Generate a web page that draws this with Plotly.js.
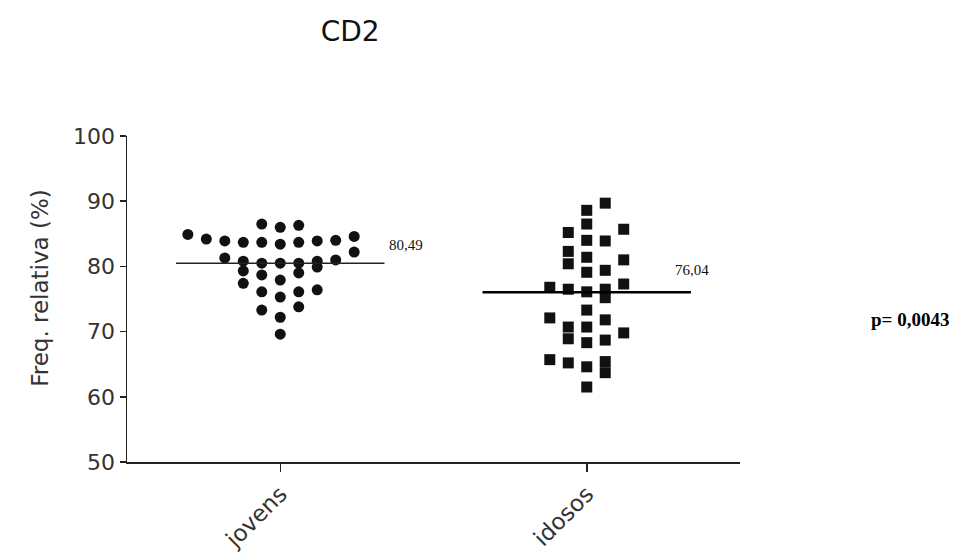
<!DOCTYPE html>
<html>
<head>
<meta charset="utf-8">
<script src="https://cdn.plot.ly/plotly-3.0.1.min.js"></script>
<style>
  html, body { margin: 0; padding: 0; background: #ffffff; }
  #chart { width: 964px; height: 557px; }
</style>
</head>
<body>
<div id="chart"></div>
<script>
// CD2 relative frequency (%) per age group
const groups = ['jovens', 'idosos'];

const jovensValues = [
  84.9, 84.2, 83.9, 83.7, 83.7, 86.5, 86.0, 86.3, 83.4, 83.7,
  83.9, 84.0, 84.6, 82.2, 81.3, 80.8, 80.5, 80.5, 80.5, 80.8,
  81.0, 79.3, 78.7, 79.0, 79.9, 77.4, 77.9, 76.1, 75.3, 76.1,
  76.4, 73.3, 72.2, 73.8, 69.6
];
const idososValues = [
  89.7, 88.6, 86.5, 85.2, 85.7, 84.0, 83.9, 82.3, 80.4, 81.4,
  81.0, 79.1, 79.4, 76.8, 76.5, 76.1, 76.5, 77.3, 75.2, 73.3,
  72.1, 70.7, 70.7, 71.8, 68.9, 68.3, 68.7, 69.8, 65.7, 65.2,
  64.6, 65.4, 63.7, 61.5
];

// Group means shown as horizontal bars
const means = [80.49, 76.04];
const pValue = '0,0043';

// Column slot of each dot in the scatter arrangement (layout only)
const jovensSlot = [
  -5, -4, -3, -2, -1, -1, 0, 1, 0, 1,
   2, 3, 4, 4, -3, -2, -1, 0, 1, 2,
   3, -2, -1, 1, 2, -2, 0, -1, 0, 1,
   2, -1, 0, 1, 0
];
const idososSlot = [
   1, 0, 0, -1, 2, 0, 1, -1, -1, 0,
   2, 0, 1, -2, -1, 0, 1, 2, 1, 0,
  -2, -1, 0, 1, -1, 0, 1, 2, -2, -1,
   0, 1, 1, 0
];
const slotWidth = 0.0603;
const meanHalfWidth = 0.34;

const fmt = v => v.toFixed(2).replace('.', ',');

const traces = [
  {
    type: 'scatter', mode: 'markers', name: groups[0],
    x: jovensSlot.map(s => 0 + s * slotWidth),
    y: jovensValues,
    marker: { symbol: 'circle', size: 11, color: '#111111' },
    hoverinfo: 'y'
  },
  {
    type: 'scatter', mode: 'markers', name: groups[1],
    x: idososSlot.map(s => 1 + s * slotWidth),
    y: idososValues,
    marker: { symbol: 'square', size: 11, color: '#111111' },
    hoverinfo: 'y'
  },
  {
    type: 'scatter', mode: 'lines', name: 'média ' + groups[0],
    x: [0 - meanHalfWidth, 0 + meanHalfWidth],
    y: [means[0], means[0]],
    line: { color: '#1f1f3a', width: 1.6 },
    hoverinfo: 'y'
  },
  {
    type: 'scatter', mode: 'lines', name: 'média ' + groups[1],
    x: [1 - meanHalfWidth, 1 + meanHalfWidth],
    y: [means[1], means[1]],
    line: { color: '#000000', width: 2.6 },
    hoverinfo: 'y'
  }
];

const sans = 'DejaVu Sans, Arial, sans-serif';
const serif = 'Liberation Serif, Times New Roman, serif';

const layout = {
  width: 964,
  height: 557,
  margin: { l: 127, r: 224, t: 135.5, b: 94.5 },
  paper_bgcolor: '#ffffff',
  plot_bgcolor: '#ffffff',
  showlegend: false,
  title: {
    text: 'CD2',
    font: { family: sans, size: 28, color: '#111111' },
    x: 351 / 964, xanchor: 'center', xref: 'paper',
    y: 1 - 31 / 557, yanchor: 'middle', yref: 'container'
  },
  xaxis: {
    range: [-0.5, 1.5],
    tickvals: [0, 1],
    ticktext: groups,
    tickangle: -45,
    ticks: 'outside', ticklen: 8, tickwidth: 1.5, tickcolor: '#222222',
    showline: true, linecolor: '#222222', linewidth: 1.5,
    showgrid: false, zeroline: false,
    tickfont: { family: sans, size: 23, color: '#333333' }
  },
  yaxis: {
    range: [50, 100],
    tickvals: [50, 60, 70, 80, 90, 100],
    ticks: 'outside', ticklen: 6, tickwidth: 1.5, tickcolor: '#222222',
    showline: true, linecolor: '#222222', linewidth: 1.5,
    showgrid: false, zeroline: false,
    tickfont: { family: sans, size: 22, color: '#333333' }
  },
  annotations: [
    {
      text: 'Freq. relativa (%)', textangle: -90,
      xref: 'paper', yref: 'paper', x: -0.142, y: 0.534,
      xanchor: 'center', yanchor: 'middle', showarrow: false,
      font: { family: sans, size: 23, color: '#333333' }
    },
    {
      text: fmt(means[0]), xref: 'x', yref: 'y',
      x: 0.41, y: means[0] + 2.8, showarrow: false,
      xanchor: 'center', yanchor: 'middle',
      font: { family: serif, size: 15, color: '#111111' }
    },
    {
      text: fmt(means[1]), xref: 'x', yref: 'y',
      x: 1.345, y: means[1] + 3.4, showarrow: false,
      xanchor: 'center', yanchor: 'middle',
      font: { family: serif, size: 15, color: '#111111' }
    },
    {
      text: '<b>p= ' + pValue + '</b>', xref: 'paper', yref: 'paper',
      x: 1.277, y: 0.436, showarrow: false,
      xanchor: 'center', yanchor: 'middle',
      font: { family: serif, size: 19, color: '#000000' }
    }
  ]
};

Plotly.newPlot('chart', traces, layout, { displayModeBar: false, staticPlot: true });
</script>
</body>
</html>
